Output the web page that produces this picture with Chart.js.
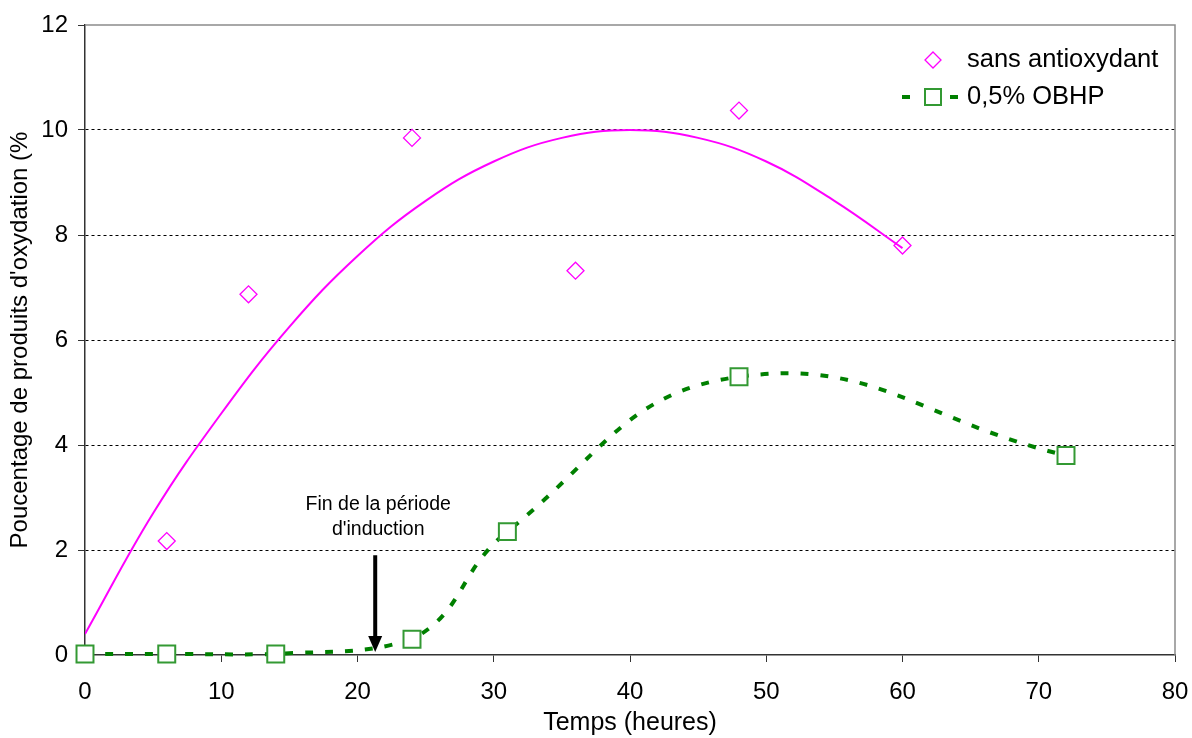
<!DOCTYPE html>
<html>
<head>
<meta charset="utf-8">
<script src="https://cdn.jsdelivr.net/npm/chart.js@4"></script>
<style>
  body { margin: 0; background: #fff; }
  #wrap { width: 1192px; height: 738px; }
</style>
</head>
<body>
<div id="wrap"><canvas id="chart"></canvas></div>
<script>
// points mesurés (sans antioxydant)
const sansX = [6, 12, 24, 36, 48, 60];
const sansY = [2.17, 6.87, 9.85, 7.32, 10.37, 7.8];
// courbe de tendance
const tendX = [0, 5, 10, 15, 20, 25, 30, 35, 40, 45, 50, 55, 60];
const tendY = [0.4, 2.7, 4.6, 6.25, 7.6, 8.65, 9.4, 9.85, 10.0, 9.85, 9.4, 8.65, 7.75];
// 0,5% OBHP
const obhpX = [0, 6, 14, 24, 31, 48, 72];
const obhpY = [0.02, 0.02, 0.02, 0.3, 2.35, 5.3, 3.8];
// annotation
const flecheX = 21.3;
const flecheHaut = 1.9;
const yTicks = [0, 2, 4, 6, 8, 10, 12];

const police = 'Arial, "Liberation Sans", sans-serif';

const decor = {
  id: 'decor',
  afterDraw(chart) {
    const { ctx, chartArea: a, scales: { x, y } } = chart;
    ctx.save();
    // cadre gris haut/droite
    ctx.strokeStyle = '#8c8c8c';
    ctx.lineWidth = 1.5;
    ctx.beginPath();
    ctx.moveTo(a.left, a.top);
    ctx.lineTo(a.right, a.top);
    ctx.lineTo(a.right, a.bottom);
    ctx.stroke();

    // flèche fin de période d'induction
    const px = x.getPixelForValue(flecheX);
    const top = y.getPixelForValue(flecheHaut);
    const tip = y.getPixelForValue(0) - 3;
    ctx.strokeStyle = '#000';
    ctx.fillStyle = '#000';
    ctx.lineWidth = 4;
    ctx.beginPath();
    ctx.moveTo(px, top);
    ctx.lineTo(px, tip - 14);
    ctx.stroke();
    ctx.beginPath();
    ctx.moveTo(px - 7, tip - 16);
    ctx.lineTo(px + 7, tip - 16);
    ctx.lineTo(px, tip);
    ctx.closePath();
    ctx.fill();

    ctx.font = '19.5px ' + police;
    ctx.textAlign = 'center';
    ctx.textBaseline = 'middle';
    ctx.fillText('Fin de la période', px + 3, top - 51);
    ctx.fillText("d'induction", px + 3, top - 26);

    // légende
    ctx.font = '25.5px ' + police;
    ctx.textAlign = 'left';
    ctx.fillStyle = '#000';
    ctx.fillText('sans antioxydant', 967, 60);
    ctx.fillText('0,5% OBHP', 967, 97);
    ctx.strokeStyle = '#ff00ff';
    ctx.lineWidth = 1.3;
    ctx.beginPath();
    ctx.moveTo(933, 52); ctx.lineTo(941, 60); ctx.lineTo(933, 68); ctx.lineTo(925, 60);
    ctx.closePath();
    ctx.stroke();
    ctx.fillStyle = '#008000';
    ctx.fillRect(902, 95, 8, 4);
    ctx.fillRect(950, 95, 8, 4);
    ctx.strokeStyle = '#339933';
    ctx.lineWidth = 2;
    ctx.strokeRect(925, 89, 16, 16);
    ctx.restore();
  }
};

new Chart(document.getElementById('chart'), {
  type: 'scatter',
  data: {
    datasets: [
      {
        label: 'sans antioxydant',
        data: sansX.map((v, i) => ({ x: v, y: sansY[i] })),
        showLine: false,
        pointStyle: 'rectRot',
        pointRadius: 8.5,
        pointBorderColor: '#ff00ff',
        pointBorderWidth: 1.3,
        pointBackgroundColor: 'rgba(255,255,255,0)',
        clip: false,
        order: 0
      },
      {
        label: 'tendance',
        data: tendX.map((v, i) => ({ x: v, y: tendY[i] })),
        showLine: true,
        pointRadius: 0,
        borderColor: '#ff00ff',
        borderWidth: 2,
        tension: 0.4,
        order: 2
      },
      {
        label: '0,5% OBHP',
        data: obhpX.map((v, i) => ({ x: v, y: obhpY[i] })),
        showLine: true,
        borderColor: '#008000',
        borderWidth: 4,
        borderDash: [8, 12],
        tension: 0.45,
        pointStyle: 'rect',
        pointRadius: 12,
        pointBorderColor: '#339933',
        pointBorderWidth: 2,
        pointBackgroundColor: '#fff',
        clip: false,
        order: 1
      }
    ]
  },
  options: {
    responsive: true,
    maintainAspectRatio: false,
    animation: false,
    layout: { padding: { top: 25, right: 17, left: 0, bottom: 0 } },
    plugins: {
      legend: { display: false },
      tooltip: { enabled: false }
    },
    scales: {
      x: {
        type: 'linear',
        min: 0,
        max: 80,
        afterFit: s => { s.height = 83; s.paddingLeft = 0; s.paddingRight = 0; },
        ticks: { stepSize: 10, color: '#000', font: { size: 24, family: police }, padding: 16 },
        grid: { drawOnChartArea: false, tickLength: 7, tickColor: '#333' },
        border: { color: '#333', width: 1.5 },
        title: { display: true, text: 'Temps (heures)', color: '#000', font: { size: 25, family: police }, padding: { top: 0, bottom: 0 } }
      },
      y: {
        min: 0,
        max: 12,
        afterFit: s => { s.width = 85; },
        afterBuildTicks: s => { s.ticks = yTicks.map(v => ({ value: v })); },
        ticks: { color: '#000', font: { size: 24, family: police }, padding: 10 },
        grid: {
          tickLength: 7,
          tickColor: '#333',
          lineWidth: 1,
          color: c => (c.tick && (c.tick.value === 0 || c.tick.value === 12)) ? 'rgba(0,0,0,0)' : '#000'
        },
        border: { color: '#333', width: 1.5, dash: [3, 3] },
        title: { display: true, text: "Poucentage de produits d'oxydation (%", color: '#000', font: { size: 24, family: police }, padding: { top: 6, bottom: 0 } }
      }
    }
  },
  plugins: [decor]
});
</script>
</body>
</html>
